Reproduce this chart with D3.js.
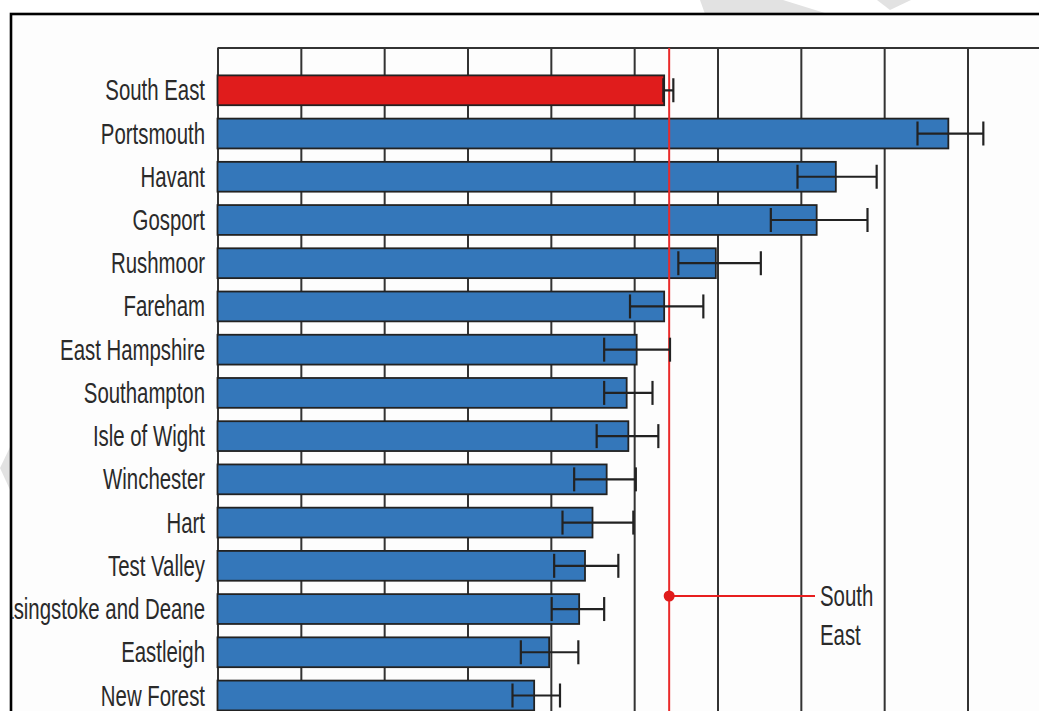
<!DOCTYPE html>
<html>
<head>
<meta charset="utf-8">
<script src="https://cdn.jsdelivr.net/npm/d3@7"></script>
<style>
  html, body { margin: 0; padding: 0; background: #ffffff; }
  svg { display: block; }
  .lbl { font-family: "Liberation Sans Narrow", "Liberation Sans", "DejaVu Sans Condensed", sans-serif; font-size: 29px; fill: #2a2a2a; }
</style>
</head>
<body>
<svg id="chart" width="1039" height="711"></svg>
<script>
// ---- data ----
const categories = ["South East", "Portsmouth", "Havant", "Gosport", "Rushmoor", "Fareham",
  "East Hampshire", "Southampton", "Isle of Wight", "Winchester", "Hart", "Test Valley",
  "Basingstoke and Deane", "Eastleigh", "New Forest"];
const values = [53.6, 87.7, 74.2, 71.9, 59.8, 53.6, 50.3, 49.1, 49.3, 46.7, 45.0, 44.1, 43.4, 39.8, 38.0];
const lower  = [53.5, 84.0, 69.6, 66.4, 55.3, 49.5, 46.4, 46.4, 45.5, 42.8, 41.4, 40.4, 40.1, 36.4, 35.4];
const upper  = [54.7, 91.9, 79.1, 78.0, 65.2, 58.3, 54.3, 52.2, 52.9, 50.2, 49.9, 48.1, 46.4, 43.3, 41.1];
const highlight = "South East";
const referenceValue = 54.2;
const tickValues = [0, 10, 20, 30, 40, 50, 60, 70, 80, 90, 100, 110];
const annotationLines = ["South", "East"];

const rows = categories.map((c, i) => ({ name: c, value: values[i], lo: lower[i], hi: upper[i] }));

const svg = d3.select("#chart");
const W = 1039, H = 711;

// background watermark fragments (outside the frame)
const wm = [
  [[700,0],[783,0],[828,14],[705,14]],
  [[877,0],[911,0],[890,10]],
  [[11,445],[0,468],[11,492]]
];
svg.append("g").selectAll("polygon").data(wm).join("polygon")
  .attr("points", d => d.map(p => p.join(",")).join(" "))
  .attr("fill", "#e2e2e2");

// frame
svg.append("rect").attr("x", 11).attr("y", 14).attr("width", 1200).attr("height", 900)
  .attr("fill", "#fdfdfd").attr("stroke", "#000").attr("stroke-width", 2.6);

svg.append("defs").append("clipPath").attr("id", "inner")
  .append("rect").attr("x", 12.3).attr("y", 15.3).attr("width", 1200).attr("height", 900);

const g = svg.append("g").attr("clip-path", "url(#inner)");

const plotLeft = 217.5, plotTop = 48;
const x = d3.scaleLinear().domain([0, 120]).range([plotLeft, plotLeft + 1000]);
const y = d3.scaleBand().domain(categories).range([68.9, 68.9 + 43.2 * 15])
  .paddingInner(0.31).paddingOuter(0.15);

// grid lines (vertical) via axis
const grid = g.append("g").attr("transform", `translate(0,${plotTop})`)
  .call(d3.axisBottom(x).tickValues(tickValues).tickSize(H).tickFormat(""));
grid.select(".domain").remove();
grid.selectAll(".tick line").attr("stroke", "#333").attr("stroke-width", 2);

// top border of plot area
g.append("line").attr("x1", plotLeft).attr("x2", W + 10).attr("y1", plotTop).attr("y2", plotTop)
  .attr("stroke", "#333").attr("stroke-width", 2);

// bars
g.append("g").selectAll("rect").data(rows).join("rect")
  .attr("x", x(0))
  .attr("y", d => y(d.name))
  .attr("width", d => x(d.value) - x(0))
  .attr("height", y.bandwidth())
  .attr("fill", d => d.name === highlight ? "#e01c1c" : "#3477ba")
  .attr("stroke", "#222").attr("stroke-width", 1.8);

// reference line
const rx = x(referenceValue);
g.append("line").attr("x1", rx).attr("x2", rx).attr("y1", plotTop).attr("y2", H + 10)
  .attr("stroke", "#ea2a2a").attr("stroke-width", 2);

// error bars
const capH = 24;
const eb = g.append("g").attr("stroke", "#222").attr("stroke-width", 2.2);
rows.forEach(d => {
  const cy = y(d.name) + y.bandwidth() / 2;
  eb.append("line").attr("x1", x(d.lo)).attr("x2", x(d.hi)).attr("y1", cy).attr("y2", cy);
  eb.append("line").attr("x1", x(d.lo)).attr("x2", x(d.lo)).attr("y1", cy - capH / 2).attr("y2", cy + capH / 2);
  eb.append("line").attr("x1", x(d.hi)).attr("x2", x(d.hi)).attr("y1", cy - capH / 2).attr("y2", cy + capH / 2);
});

// category labels (condensed)
const probe = g.append("text").attr("class", "lbl").text("East Hampshire");
const sx = Math.min(1, 145 / probe.node().getComputedTextLength());
probe.remove();

g.append("g").selectAll("text").data(rows).join("text")
  .attr("class", "lbl")
  .attr("text-anchor", "end")
  .attr("transform", d => `translate(205,${y(d.name) + y.bandwidth() / 2 + 10}) scale(${sx},1)`)
  .text(d => d.name);

// annotation
const ay = 596;
g.append("line").attr("x1", rx).attr("x2", 815).attr("y1", ay).attr("y2", ay)
  .attr("stroke", "#e81e1e").attr("stroke-width", 2);
g.append("circle").attr("cx", rx).attr("cy", ay).attr("r", 5.5).attr("fill", "#e01c1c");
g.append("g").selectAll("text").data(annotationLines).join("text")
  .attr("class", "lbl")
  .attr("transform", (d, i) => `translate(820,${ay + 10 + i * 39}) scale(${sx},1)`)
  .text(d => d);
</script>
</body>
</html>
